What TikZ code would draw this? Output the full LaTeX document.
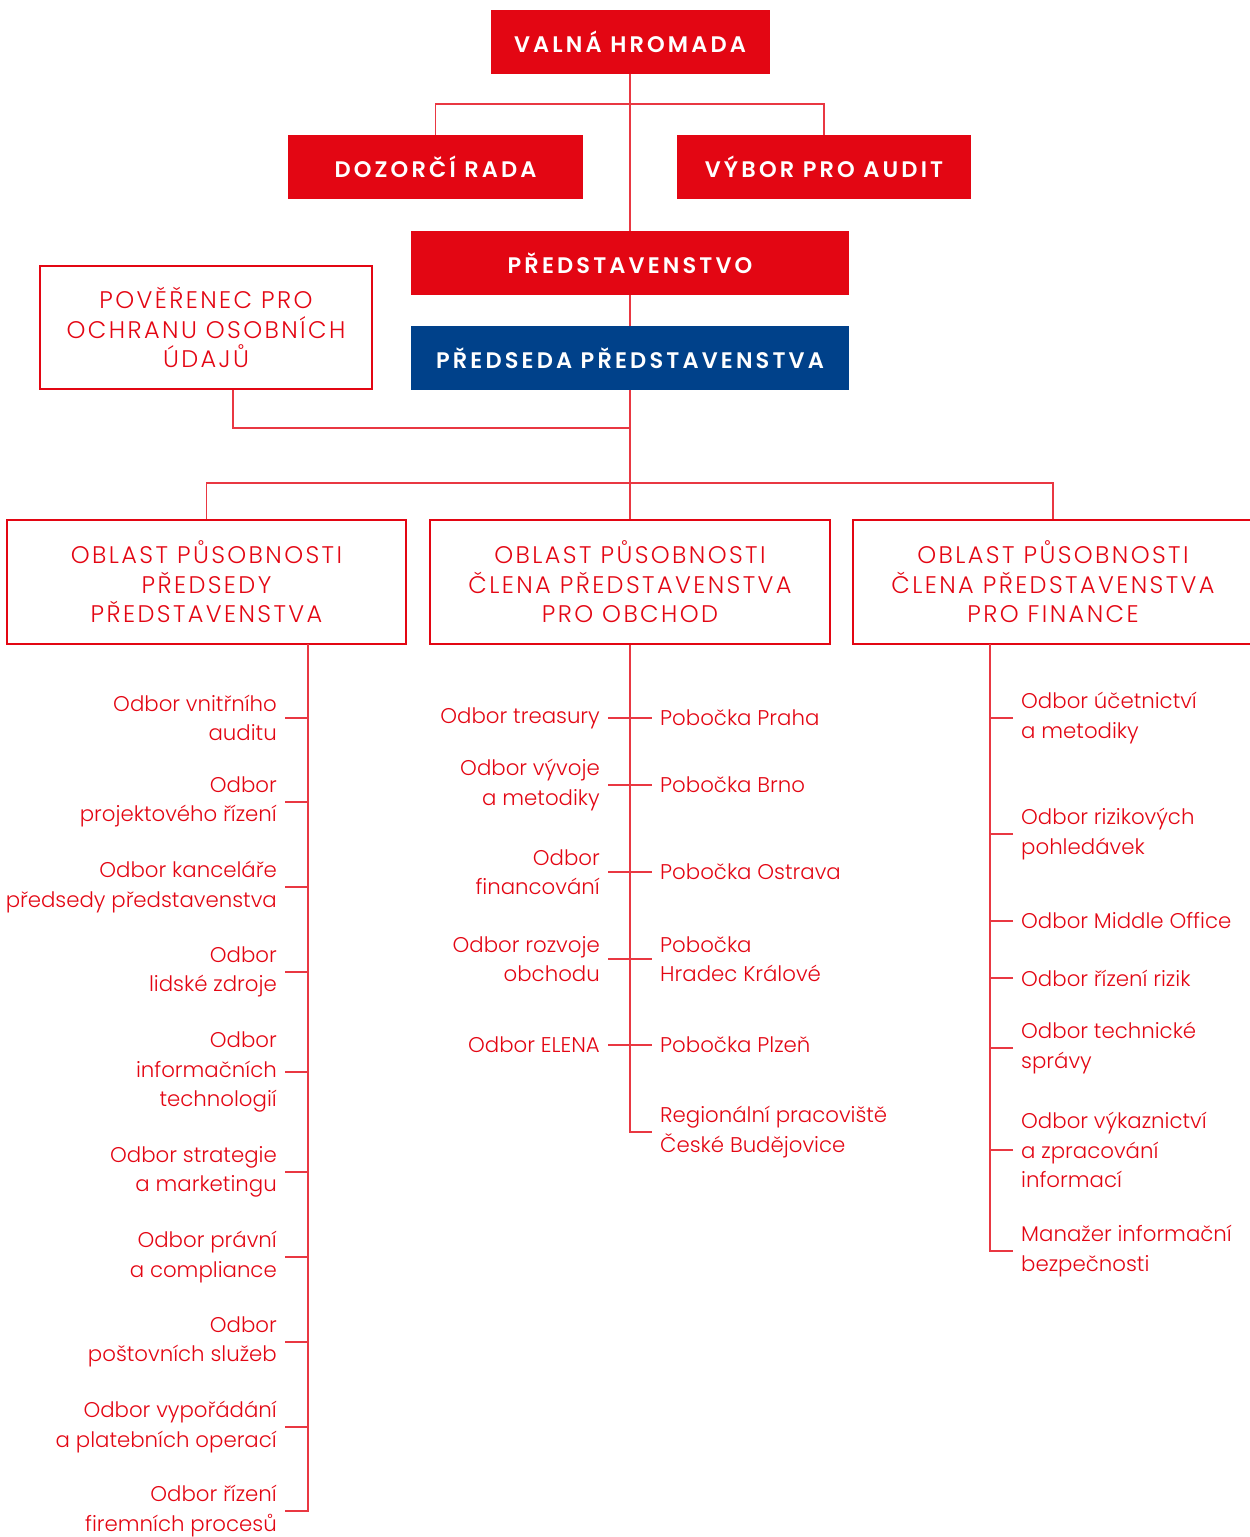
\documentclass[tikz,border=0pt]{standalone}
\usepackage{fontspec}
\setmainfont{Poppins}
\newfontfamily\itemfont{Poppins Light}
\newfontfamily\capsfont{Poppins Light}[LetterSpace=10]
\newfontfamily\headfont{Poppins SemiBold}[LetterSpace=14]
\usetikzlibrary{positioning}
\definecolor{cbred}{HTML}{E30613}
\definecolor{cbblue}{HTML}{00418A}

\begin{document}
\begin{tikzpicture}[
  x=1pt, y=-1pt,
  every node/.style={inner sep=0pt},
  head/.style={fill=cbred, text=white, minimum height=64,
               font=\headfont\fontsize{22.5}{26}\selectfont},
  frame/.style={draw=cbred, line width=1.2pt, text=cbred, align=center,
                font=\capsfont\fontsize{24}{29.5}\selectfont},
  item/.style={text=cbred, font=\itemfont\fontsize{21.3}{29.5}\selectfont},
  link/.style={draw=cbred!80, line width=1.4pt}
]
\useasboundingbox (0,0) rectangle (1250,1537);

% top bodies
\node[head, minimum width=279] (vh) at (630,41.5) {VALNÁ HROMADA};
\node[head, minimum width=295] (dr) at (435.5,167) {DOZORČÍ RADA};
\node[head, minimum width=294] (va) at (824,167) {VÝBOR PRO AUDIT};
\node[head, minimum width=438] (pr) at (630,263) {PŘEDSTAVENSTVO};
\node[head, fill=cbblue, minimum width=438] (pp) at (630,358) {PŘEDSEDA PŘEDSTAVENSTVA};
\node[frame, minimum width=332, minimum height=123] (poc) at (206,327.5)
  {POVĚŘENEC PRO\\OCHRANU OSOBNÍCH\\ÚDAJŮ};

% areas
\node[frame, minimum width=399, minimum height=124] (ob1) at (206.5,582)
  {OBLAST PŮSOBNOSTI\\PŘEDSEDY\\PŘEDSTAVENSTVA};
\node[frame, minimum width=400, minimum height=124] (ob2) at (630,582)
  {OBLAST PŮSOBNOSTI\\ČLENA PŘEDSTAVENSTVA\\PRO OBCHOD};
\node[frame, minimum width=400, minimum height=124] (ob3) at (1053,582)
  {OBLAST PŮSOBNOSTI\\ČLENA PŘEDSTAVENSTVA\\PRO FINANCE};

\coordinate (j1) at (630,104);
\coordinate (j2) at (630,428);
\coordinate (j3) at (630,483);
\coordinate (ls) at (308,644);
\coordinate (rs) at (990,644);

\draw[link] (vh) -- (pr);
\draw[link] (dr.north) |- (j1) -| (va.north);
\draw[link] (pr) -- (pp);
\draw[link] (pp) -- (ob2);
\draw[link] ([xshift=27]poc.south) |- (j2);
\draw[link] (ob1.north) |- (j3) -| (ob3.north);

% left column
\node[item, align=right, anchor=east] (l1) at (277,718) {Odbor vnitřního\\auditu};
\node[item, align=right, anchor=east] (l2) at (277,802) {Odbor\\projektového řízení};
\node[item, align=right, anchor=east] (l3) at (277,887) {Odbor kanceláře\\předsedy představenstva};
\node[item, align=right, anchor=east] (l4) at (277,972) {Odbor\\lidské zdroje};
\node[item, align=right, anchor=east] (l5) at (277,1072) {Odbor\\informačních\\technologií};
\node[item, align=right, anchor=east] (l6) at (277,1172) {Odbor strategie\\a marketingu};
\node[item, align=right, anchor=east] (l7) at (277,1257) {Odbor právní\\a compliance};
\node[item, align=right, anchor=east] (l8) at (277,1342) {Odbor\\poštovních služeb};
\node[item, align=right, anchor=east] (l9) at (277,1427) {Odbor vypořádání\\a platebních operací};
\node[item, align=right, anchor=east] (l10) at (277,1511) {Odbor řízení\\firemních procesů};

\draw[link] (ls) |- ([xshift=8]l10.east);
\foreach \i in {1,...,9}
  \draw[link] ([xshift=8]l\i.east) -- (l\i.east -| ls);

% middle column
\node[item, align=right, anchor=east] (ml1) at (600,718) {Odbor treasury};
\node[item, align=right, anchor=east] (ml2) at (600,785) {Odbor vývoje\\a metodiky};
\node[item, align=right, anchor=east] (ml3) at (600,872) {Odbor\\financování};
\node[item, align=right, anchor=east] (ml4) at (600,959) {Odbor rozvoje\\obchodu};
\node[item, align=right, anchor=east] (ml5) at (600,1045) {Odbor ELENA};
\node[item, align=left, anchor=west] (mr1) at (660,718) {Pobočka Praha};
\node[item, align=left, anchor=west] (mr2) at (660,785) {Pobočka Brno};
\node[item, align=left, anchor=west] (mr3) at (660,872) {Pobočka Ostrava};
\node[item, align=left, anchor=west] (mr4) at (660,959) {Pobočka\\Hradec Králové};
\node[item, align=left, anchor=west] (mr5) at (660,1045) {Pobočka Plzeň};
\node[item, align=left, anchor=west] (mr6) at (660,1132) {Regionální pracoviště\\České Budějovice};

\draw[link] (ob2.south) |- ([xshift=-8]mr6.west);
\foreach \i in {1,...,5}
  \draw[link] ([xshift=8]ml\i.east) -- ([xshift=-8]mr\i.west);

% right column
\node[item, align=left, anchor=west] (f1) at (1021,718) {Odbor účetnictví\\a metodiky};
\node[item, align=left, anchor=west] (f2) at (1021,834) {Odbor rizikových\\pohledávek};
\node[item, align=left, anchor=west] (f3) at (1021,921) {Odbor Middle Office};
\node[item, align=left, anchor=west] (f4) at (1021,978) {Odbor řízení rizik};
\node[item, align=left, anchor=west] (f5) at (1021,1048) {Odbor technické\\správy};
\node[item, align=left, anchor=west] (f6) at (1021,1150) {Odbor výkaznictví\\a zpracování\\informací};
\node[item, align=left, anchor=west] (f7) at (1021,1251) {Manažer informační\\bezpečnosti};

\draw[link] (rs) |- ([xshift=-8]f7.west);
\foreach \i in {1,...,6}
  \draw[link] ([xshift=-8]f\i.west) -- (f\i.west -| rs);
\end{tikzpicture}
\end{document}
